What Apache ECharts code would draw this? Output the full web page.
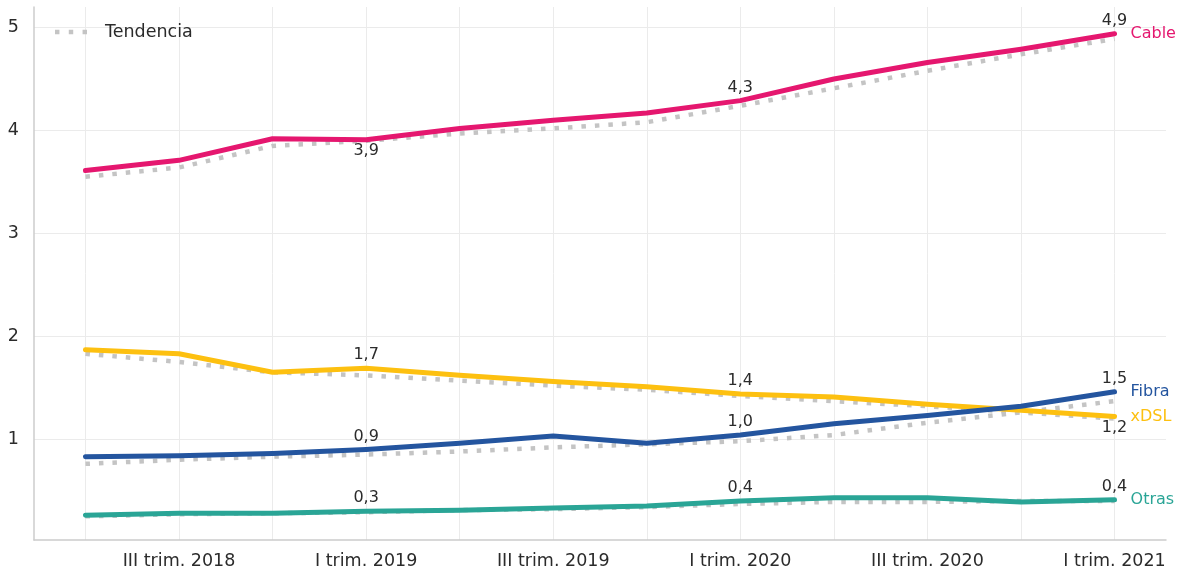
<!DOCTYPE html>
<html>
<head>
<meta charset="utf-8">
<script src="https://cdn.jsdelivr.net/npm/echarts@6/dist/echarts.min.js"></script>
<style>
  html, body { margin: 0; padding: 0; background: #fff; }
  #chart { width: 1180px; height: 571px; }
</style>
</head>
<body>
<div id="chart"></div>
<script>
// quarters, II trim. 2018 .. I trim. 2021
var categories = ['II trim. 2018', 'III trim. 2018', 'IV trim. 2018', 'I trim. 2019', 'II trim. 2019', 'III trim. 2019',
                  'IV trim. 2019', 'I trim. 2020', 'II trim. 2020', 'III trim. 2020', 'IV trim. 2020', 'I trim. 2021'];

var cable      = [3.61, 3.71, 3.92, 3.91, 4.02, 4.10, 4.17, 4.29, 4.50, 4.66, 4.79, 4.94];
var cableTrend = [3.55, 3.64, 3.85, 3.90, 3.97, 4.02, 4.08, 4.24, 4.41, 4.58, 4.74, 4.89];
var xdsl       = [1.87, 1.83, 1.65, 1.69, 1.62, 1.56, 1.51, 1.44, 1.41, 1.34, 1.28, 1.22];
var xdslTrend  = [1.83, 1.75, 1.65, 1.62, 1.57, 1.52, 1.48, 1.42, 1.37, 1.32, 1.26, 1.20];
var fibra      = [0.83, 0.84, 0.86, 0.90, 0.96, 1.03, 0.96, 1.04, 1.15, 1.23, 1.32, 1.46];
var fibraTrend = [0.76, 0.80, 0.83, 0.85, 0.88, 0.92, 0.95, 0.98, 1.04, 1.16, 1.26, 1.37];
var otras      = [0.26, 0.28, 0.28, 0.30, 0.31, 0.33, 0.35, 0.40, 0.43, 0.43, 0.39, 0.41];
var otrasTrend = [0.25, 0.27, 0.28, 0.29, 0.31, 0.32, 0.34, 0.37, 0.39, 0.39, 0.40, 0.40];

var labelIdx = [3, 7, 11];       // points that get a value label
var xLabelIdx = [1, 3, 5, 7, 9, 11];
var yTicks = [1, 2, 3, 4, 5];

var FONT = 'DejaVu Sans';
var GREY = '#c4c4c4';

function fmt(v) {
    return v.toFixed(1).replace('.', ',');
}

function mainSeries(name, values, color, below) {
    // below: indexes whose value label sits under the line
    below = below || [];
    return {
        name: name,
        type: 'line',
        z: 3,
        symbol: 'circle',
        symbolSize: 0,
        showSymbol: true,
        lineStyle: { color: color, width: 5, cap: 'round', join: 'round' },
        itemStyle: { color: color },
        data: values.map(function(v, i) {
            var item = { value: [i, v] };
            if (labelIdx.indexOf(i) >= 0) {
                var under = below.indexOf(i) >= 0;
                item.label = {
                    show: true,
                    position: under ? 'bottom' : 'top',
                    distance: under ? 3 : 5,
                    formatter: function(p) { return fmt(p.value[1]); },
                    color: '#2b2b2b',
                    fontFamily: FONT,
                    fontSize: 16
                };
            }
            return item;
        }),
        endLabel: {
            show: true,
            formatter: '{a}',
            color: color,
            fontFamily: FONT,
            fontSize: 16,
            distance: 16
        }
    };
}

function trendSeries(values) {
    return {
        name: 'Tendencia',
        type: 'line',
        z: 2,
        symbol: 'none',
        lineStyle: { color: GREY, width: 4.5, type: [4.5, 9], cap: 'butt' },
        itemStyle: { color: GREY },
        data: values.map(function(v, i) { return [i, v]; })
    };
}

var chart = echarts.init(document.getElementById('chart'));
chart.setOption({
    animation: false,
    backgroundColor: '#fff',
    textStyle: { fontFamily: FONT },
    grid: { left: 34, right: 14, top: 7, bottom: 31, containLabel: false },
    legend: {
        data: [{
            name: 'Tendencia',
            icon: 'path://M0,0h4.5v4.5h-4.5z M14,0h4.5v4.5h-4.5z M28,0h4.5v4.5h-4.5z',
            itemStyle: { color: GREY }
        }],
        left: 50,
        top: 18,
        itemWidth: 32,
        itemHeight: 4.5,
        textStyle: { fontFamily: FONT, fontSize: 17.5, color: '#2b2b2b', padding: [0, 0, 0, 13] }
    },
    xAxis: {
        type: 'value',
        min: -0.55,
        max: 11.55,
        axisLine: { show: true, onZero: false, lineStyle: { color: '#cccccc', width: 1.5 } },
        axisTick: { show: false, customValues: categories.map(function(c, i) { return i; }) },
        splitLine: { show: true, lineStyle: { color: '#ebebeb', width: 1 } },
        axisLabel: {
            customValues: xLabelIdx,
            formatter: function(v) { return categories[Math.round(v)] || ''; },
            color: '#2b2b2b',
            fontFamily: FONT,
            fontSize: 17.5,
            margin: 12
        }
    },
    yAxis: {
        type: 'value',
        min: 0.02,
        max: 5.2,
        axisLine: { show: true, onZero: false, lineStyle: { color: '#cccccc', width: 1.5 } },
        axisTick: { show: false, customValues: yTicks },
        splitLine: { show: true, lineStyle: { color: '#ebebeb', width: 1 } },
        axisLabel: {
            customValues: yTicks,
            color: '#2b2b2b',
            fontFamily: FONT,
            fontSize: 17.5,
            margin: 15
        }
    },
    series: [
        trendSeries(cableTrend),
        trendSeries(xdslTrend),
        trendSeries(fibraTrend),
        trendSeries(otrasTrend),
        mainSeries('Cable', cable, '#e5176f', [3]),
        mainSeries('xDSL', xdsl, '#fdc010', [11]),
        mainSeries('Fibra', fibra, '#24559f', []),
        mainSeries('Otras', otras, '#2aa596', [])
    ]
});
</script>
</body>
</html>
